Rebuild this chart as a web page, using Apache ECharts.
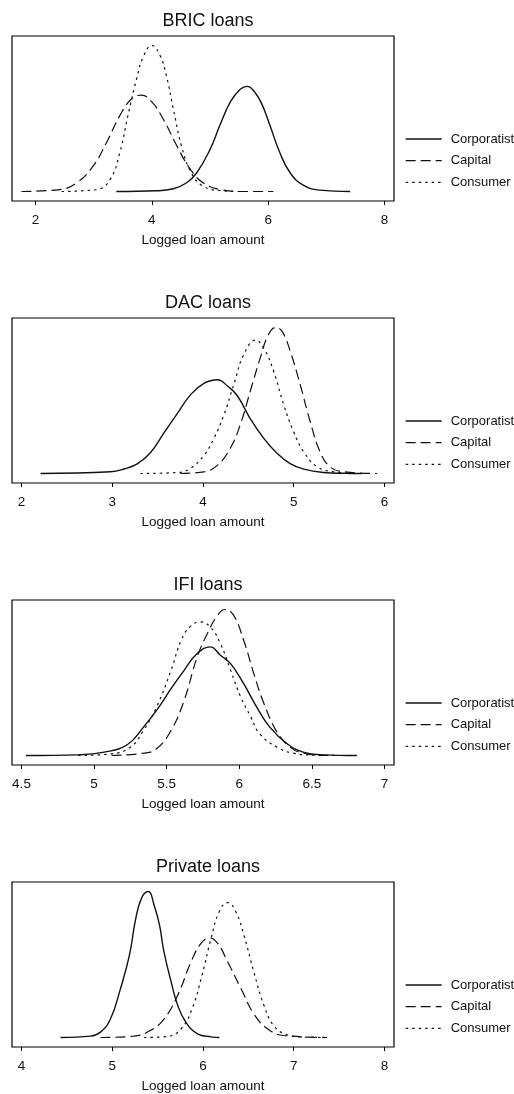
<!DOCTYPE html>
<html>
<head>
<meta charset="utf-8">
<title>Logged loan amount densities</title>
<script src="https://cdn.jsdelivr.net/npm/echarts@6/dist/echarts.min.js"></script>
<style>
  html, body { margin: 0; padding: 0; background: #fff; }
  #chart { width: 514px; height: 1094px; }
</style>
</head>
<body>
<div id="chart"></div>
<script>
// Series and panel labels
const seriesNames = ['Corporatist', 'Capital', 'Consumer'];
const panelTitles = ['BRIC loans', 'DAC loans', 'IFI loans', 'Private loans'];
const axisTitle = 'Logged loan amount';

// Tick labels of each panel's x axis
const bricTicks = [2, 4, 6, 8];
const dacTicks = [2, 3, 4, 5, 6];
const ifiTicks = [4.5, 5, 5.5, 6, 6.5, 7];
const privateTicks = [4, 5, 6, 7, 8];

// Kernel density estimates: [logged loan amount, density]
const bricCorporatist = [[3.39,0],[4.08,0.007],[4.37,0.028],[4.60,0.09],[4.77,0.19],[5.00,0.43],[5.17,0.68],[5.35,0.92],[5.52,1.05],[5.64,1.08],[5.77,1.02],[5.89,0.90],[6.03,0.68],[6.20,0.40],[6.38,0.19],[6.61,0.062],[6.89,0.014],[7.41,0]];
const bricCapital = [[1.76,0],[2.42,0.02],[2.71,0.09],[2.99,0.26],[3.22,0.50],[3.45,0.78],[3.65,0.95],[3.82,0.99],[4.00,0.92],[4.20,0.74],[4.43,0.47],[4.66,0.23],[4.88,0.09],[5.17,0.02],[5.57,0],[6.09,0]];
const bricConsumer = [[2.45,0],[3.05,0.02],[3.28,0.12],[3.45,0.40],[3.59,0.78],[3.74,1.16],[3.85,1.38],[4.00,1.50],[4.14,1.40],[4.25,1.19],[4.37,0.85],[4.51,0.47],[4.68,0.19],[4.88,0.055],[5.17,0.01],[5.52,0]];

const dacCorporatist = [[2.21,0],[2.98,0.019],[3.13,0.05],[3.28,0.11],[3.42,0.23],[3.57,0.45],[3.72,0.67],[3.86,0.87],[4.01,1.00],[4.16,1.04],[4.27,0.97],[4.38,0.86],[4.52,0.61],[4.67,0.39],[4.82,0.22],[4.96,0.11],[5.11,0.048],[5.33,0.011],[5.55,0.002],[5.75,0]];
const dacCapital = [[3.75,0],[4.01,0.019],[4.16,0.093],[4.30,0.28],[4.41,0.54],[4.52,0.91],[4.63,1.28],[4.72,1.54],[4.80,1.62],[4.87,1.58],[4.96,1.36],[5.07,0.99],[5.18,0.58],[5.29,0.24],[5.40,0.074],[5.55,0.019],[5.92,0]];
const dacConsumer = [[3.31,0],[3.72,0.011],[3.86,0.056],[4.01,0.20],[4.12,0.39],[4.23,0.65],[4.34,0.99],[4.45,1.32],[4.58,1.48],[4.67,1.39],[4.78,1.13],[4.89,0.76],[5.00,0.46],[5.11,0.24],[5.26,0.074],[5.44,0.019],[5.70,0]];

const ifiCorporatist = [[4.53,0],[4.89,0.01],[5.07,0.05],[5.23,0.165],[5.34,0.425],[5.43,0.675],[5.53,1.0],[5.62,1.275],[5.71,1.525],[5.80,1.625],[5.87,1.50],[5.94,1.375],[6.03,1.075],[6.12,0.725],[6.21,0.425],[6.33,0.175],[6.44,0.05],[6.58,0.01],[6.81,0]];
const ifiCapital = [[5.12,0],[5.34,0.035],[5.43,0.10],[5.53,0.375],[5.62,0.825],[5.71,1.475],[5.78,1.825],[5.85,2.10],[5.90,2.185],[5.96,2.10],[6.03,1.725],[6.10,1.225],[6.17,0.775],[6.26,0.35],[6.35,0.125],[6.44,0.035],[6.60,0]];
const ifiConsumer = [[4.89,0],[5.12,0.025],[5.25,0.125],[5.34,0.375],[5.43,0.725],[5.53,1.275],[5.60,1.725],[5.66,1.925],[5.73,2.0],[5.80,1.925],[5.87,1.675],[5.94,1.275],[6.01,0.875],[6.08,0.575],[6.14,0.325],[6.26,0.125],[6.37,0.035],[6.53,0.005],[6.71,0]];

const privateCorporatist = [[4.43,0],[4.76,0.018],[4.87,0.073],[4.98,0.25],[5.09,0.66],[5.19,1.12],[5.26,1.62],[5.33,1.91],[5.40,1.98],[5.46,1.80],[5.52,1.53],[5.57,1.16],[5.65,0.75],[5.72,0.44],[5.81,0.21],[5.94,0.05],[6.09,0.009],[6.18,0]];
const privateCapital = [[4.87,0],[5.24,0.018],[5.42,0.095],[5.57,0.25],[5.72,0.57],[5.87,1.03],[5.98,1.28],[6.07,1.35],[6.16,1.28],[6.27,1.03],[6.42,0.66],[6.56,0.32],[6.71,0.12],[6.89,0.027],[7.37,0]];
const privateConsumer = [[5.35,0],[5.61,0.014],[5.76,0.12],[5.88,0.39],[5.99,0.85],[6.09,1.35],[6.18,1.71],[6.27,1.83],[6.36,1.71],[6.45,1.39],[6.56,0.89],[6.67,0.44],[6.78,0.16],[6.93,0.036],[7.12,0.005],[7.34,0]];

const panels = [
  { title: panelTitles[0], ticks: bricTicks, curves: [bricCorporatist, bricCapital, bricConsumer] },
  { title: panelTitles[1], ticks: dacTicks, curves: [dacCorporatist, dacCapital, dacConsumer] },
  { title: panelTitles[2], ticks: ifiTicks, curves: [ifiCorporatist, ifiCapital, ifiConsumer] },
  { title: panelTitles[3], ticks: privateTicks, curves: [privateCorporatist, privateCapital, privateConsumer] }
];

// Layout
const FONT = '"Liberation Sans", Arial, Helvetica, sans-serif';
const INK = '#111';
const gridLeft = 12, gridWidth = 382, gridHeight = 165;
const gridTops = [36, 318, 600, 882];
const PAD = 9.5; // plot-region margin inside the frame, px
const lineStyles = [
  { type: 'solid', width: 1.4 },
  { type: [10, 5], width: 1.2 },
  { type: [2.5, 4], width: 1.2 }
];

const grids = [], xAxes = [], yAxes = [], series = [], titles = [], legends = [];

panels.forEach((p, i) => {
  const top = gridTops[i];
  grids.push({
    left: gridLeft, top: top, width: gridWidth, height: gridHeight,
    show: true, borderColor: '#000', borderWidth: 1.2, backgroundColor: 'transparent'
  });
  const ticks = p.ticks;
  xAxes.push({
    type: 'value', gridIndex: i,
    min: v => {
      const lo = Math.min(v.min, ticks[0]), hi = Math.max(v.max, ticks[ticks.length - 1]);
      return lo - PAD * (hi - lo) / (gridWidth - 2 * PAD);
    },
    max: v => {
      const lo = Math.min(v.min, ticks[0]), hi = Math.max(v.max, ticks[ticks.length - 1]);
      return hi + PAD * (hi - lo) / (gridWidth - 2 * PAD);
    },
    axisLine: { show: false, onZero: false },
    axisTick: { show: true, customValues: ticks, length: 4, inside: false, lineStyle: { color: '#000', width: 1 } },
    axisLabel: { customValues: ticks, color: INK, fontSize: 13.5, fontFamily: FONT, margin: 12 },
    splitLine: { show: false },
    name: axisTitle, nameLocation: 'middle', nameGap: 32,
    nameTextStyle: { color: INK, fontSize: 13.5, fontFamily: FONT }
  });
  yAxes.push({
    type: 'value', gridIndex: i, show: false,
    min: v => -PAD * v.max / (gridHeight - 2 * PAD),
    max: v => v.max + PAD * v.max / (gridHeight - 2 * PAD),
    splitLine: { show: false }
  });
  p.curves.forEach((data, k) => {
    series.push({
      type: 'line', name: seriesNames[k], xAxisIndex: i, yAxisIndex: i,
      data: data, symbol: 'none', smooth: 0.45,
      lineStyle: { color: INK, width: lineStyles[k].width, type: lineStyles[k].type },
      itemStyle: { color: INK }, silent: true
    });
  });
  titles.push({
    text: p.title, left: gridLeft + gridWidth / 2, top: top - 28.5, textAlign: 'center',
    textStyle: { fontSize: 18, fontWeight: 'normal', color: INK, fontFamily: FONT }
  });
  legends.push({
    data: seriesNames, orient: 'vertical', left: 405, top: top + 96.5, padding: 0,
    itemWidth: 36, itemHeight: 14, itemGap: 8.7, selectedMode: false,
    itemStyle: { opacity: 0 },
    lineStyle: { width: 1.3 },
    textStyle: { color: INK, fontSize: 13, fontFamily: FONT, padding: [0, 0, 0, 4] }
  });
});

const chart = echarts.init(document.getElementById('chart'), null, { renderer: 'canvas' });
chart.setOption({
  backgroundColor: '#fff',
  animation: false,
  title: titles,
  legend: legends,
  grid: grids,
  xAxis: xAxes,
  yAxis: yAxes,
  series: series
});
</script>
</body>
</html>
